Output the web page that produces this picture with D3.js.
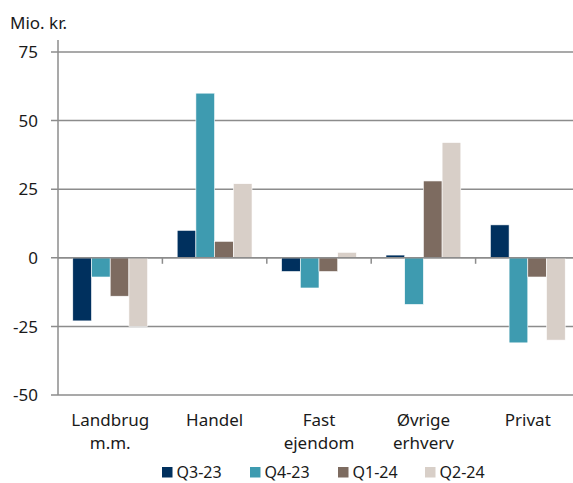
<!DOCTYPE html>
<html>
<head>
<meta charset="utf-8">
<script src="https://cdn.jsdelivr.net/npm/d3@7"></script>
<style>
  body { margin: 0; background: #fff; }
  text { font-family: "Noto Sans", "Open Sans", sans-serif; fill: #1a1a1a; }
</style>
</head>
<body>
<svg id="chart" width="573" height="483"></svg>
<script>
// categories (two-line labels) and quarter series
const categories = ["Landbrug m.m.", "Handel", "Fast ejendom", "Øvrige erhverv", "Privat"];
const categoryLines = [["Landbrug", "m.m."], ["Handel"], ["Fast", "ejendom"], ["Øvrige", "erhverv"], ["Privat"]];
const seriesNames = ["Q3-23", "Q4-23", "Q1-24", "Q2-24"];
const q323 = [-23, 10, -5, 1, 12];
const q423 = [-7, 60, -11, -17, -31];
const q124 = [-14, 6, -5, 28, -7];
const q224 = [-25, 27, 2, 42, -30];
const yTicks = [-50, -25, 0, 25, 50, 75];
const colors = ["#00305e", "#3e9bb0", "#7d6b60", "#d8cfc8"];

const values = [q323, q423, q124, q224];

const svg = d3.select("#chart");
const plot = { left: 58, right: 580, top: 40, bottom: 395 };

const x = d3.scaleBand()
  .domain(categories)
  .range([plot.left, plot.right])
  .paddingInner(0)
  .paddingOuter(0);

const xs = d3.scaleBand()
  .domain(seriesNames)
  .range([0, x.bandwidth()])
  .paddingOuter(0.79)
  .paddingInner(0);

const y = d3.scaleLinear().domain([-50, 75]).range([plot.bottom, 52]);

// gridlines
svg.append("g")
  .selectAll("line")
  .data(yTicks)
  .enter()
  .append("line")
  .attr("x1", plot.left - 7)
  .attr("x2", plot.right)
  .attr("y1", d => y(d))
  .attr("y2", d => y(d))
  .attr("stroke", "#8c8c8c")
  .attr("stroke-width", 1.5);

// y axis line
svg.append("line")
  .attr("x1", plot.left).attr("x2", plot.left)
  .attr("y1", plot.top).attr("y2", plot.bottom)
  .attr("stroke", "#8c8c8c")
  .attr("stroke-width", 1.5);

// y labels
svg.append("g")
  .selectAll("text")
  .data(yTicks)
  .enter()
  .append("text")
  .attr("x", 38)
  .attr("y", d => y(d))
  .attr("dy", "0.36em")
  .attr("text-anchor", "end")
  .attr("font-size", "17px")
  .text(d => d);

svg.append("text")
  .attr("x", 10)
  .attr("y", 29)
  .attr("font-size", "17px")
  .text("Mio. kr.");

// bars
const groups = svg.append("g")
  .selectAll("g")
  .data(seriesNames)
  .enter()
  .append("g")
  .attr("fill", (d, i) => colors[i]);

groups.selectAll("rect")
  .data((s, si) => categories.map((c, ci) => ({ c, s, v: values[si][ci] })))
  .enter()
  .append("rect")
  .attr("x", d => x(d.c) + xs(d.s))
  .attr("width", xs.bandwidth())
  .attr("y", d => y(Math.max(0, d.v)))
  .attr("height", d => Math.abs(y(d.v) - y(0)))
  .attr("stroke", "#fff")
  .attr("stroke-width", 0.6);

// zero line on top with category ticks
svg.append("line")
  .attr("x1", plot.left).attr("x2", plot.right)
  .attr("y1", y(0)).attr("y2", y(0))
  .attr("stroke", "#8c8c8c")
  .attr("stroke-width", 1.5);

svg.append("g")
  .selectAll("line")
  .data(categories.slice(1))
  .enter()
  .append("line")
  .attr("x1", d => x(d)).attr("x2", d => x(d))
  .attr("y1", y(0)).attr("y2", y(0) + 6)
  .attr("stroke", "#8c8c8c")
  .attr("stroke-width", 1.5);

// category labels
const catLabels = svg.append("g")
  .selectAll("text")
  .data(categories)
  .enter()
  .append("text")
  .attr("x", d => x(d) + x.bandwidth() / 2)
  .attr("y", 426)
  .attr("text-anchor", "middle")
  .attr("font-size", "17px");

catLabels.selectAll("tspan")
  .data((d, i) => categoryLines[i])
  .enter()
  .append("tspan")
  .attr("x", function () { return d3.select(this.parentNode).attr("x"); })
  .attr("dy", (d, i) => i === 0 ? 0 : 23)
  .text(d => d);

// legend
const legendX = [162, 250, 338, 425];
const legend = svg.append("g")
  .selectAll("g")
  .data(seriesNames)
  .enter()
  .append("g")
  .attr("transform", (d, i) => `translate(${legendX[i]},467)`);

legend.append("rect")
  .attr("width", 10.5).attr("height", 10.5)
  .attr("fill", (d, i) => colors[i]);

legend.append("text")
  .attr("x", 14.5)
  .attr("y", 10.5)
  .attr("font-size", "16px")
  .text(d => d);
</script>
</body>
</html>
